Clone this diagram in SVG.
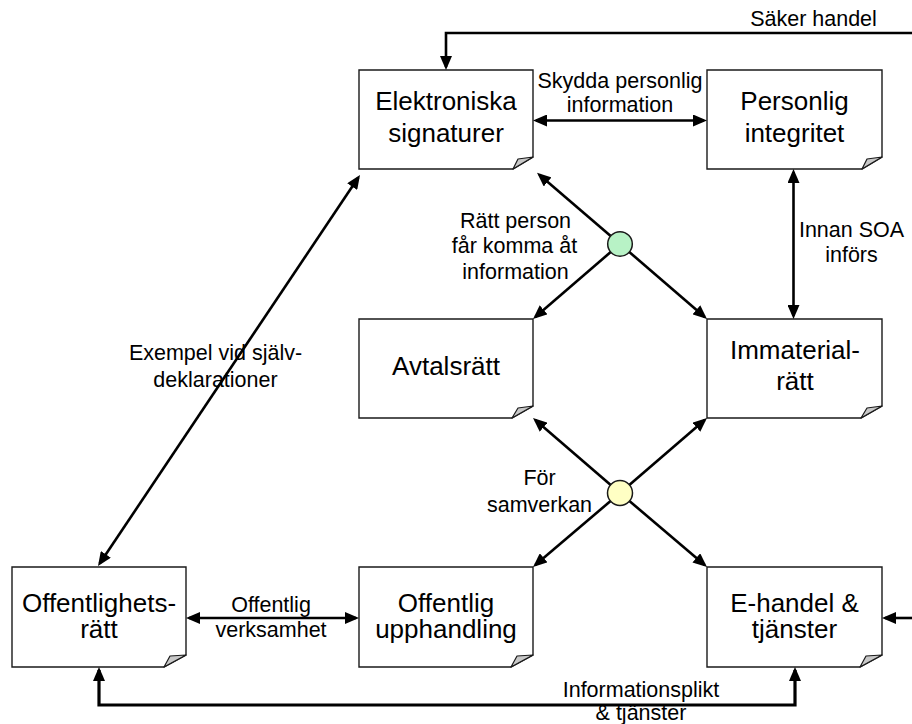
<svg xmlns="http://www.w3.org/2000/svg" width="912" height="724" viewBox="0 0 912 724">
  <style>
    .box { fill: #ffffff; stroke: #1a1a1a; stroke-width: 1.4; }
    .fold { fill: #c8c8c8; stroke: #1a1a1a; stroke-width: 1.2; stroke-linejoin: round; }
    .node-label { font-family: "Liberation Sans", Arial, sans-serif; font-size: 26px; fill: #000; text-anchor: middle; }
    .edge-label { font-family: "Liberation Sans", Arial, sans-serif; font-size: 21.5px; fill: #000; text-anchor: middle; }
    .conn { fill: none; stroke: #000; stroke-width: 2.6; }
    .conn-thick { fill: none; stroke: #000; stroke-width: 3.2; }
    .hub { stroke: #1a1a1a; stroke-width: 1.5; }
  </style>
  <defs>
    <marker id="arrow" markerUnits="userSpaceOnUse" markerWidth="14" markerHeight="12" refX="11" refY="6" orient="auto-start-reverse">
      <path d="M0,0 L14,6 L0,12 z" fill="#000"/>
    </marker>
  </defs>

  <rect width="912" height="724" fill="#ffffff"/>

  <!-- Nodes: note shapes with folded bottom-right corner -->
  <g id="elektroniska-signaturer">
    <path class="box" d="M359,70 H533 V157 L513,169 H359 Z"/>
    <path class="fold" d="M513,169 L518,159 L533,157 Z"/>
    <text class="node-label" x="446" y="110">Elektroniska</text>
    <text class="node-label" x="446" y="142">signaturer</text>
  </g>
  <g id="personlig-integritet">
    <path class="box" d="M707,70 H882 V157 L862,169 H707 Z"/>
    <path class="fold" d="M862,169 L867,159 L882,157 Z"/>
    <text class="node-label" x="794.5" y="110">Personlig</text>
    <text class="node-label" x="794.5" y="142">integritet</text>
  </g>
  <g id="avtalsratt">
    <path class="box" d="M359,319 H533 V406 L512,418 H359 Z"/>
    <path class="fold" d="M512,418 L518,408 L533,406 Z"/>
    <text class="node-label" x="446" y="375">Avtalsrätt</text>
  </g>
  <g id="immaterialratt">
    <path class="box" d="M707,319 H882 V406 L861,418 H707 Z"/>
    <path class="fold" d="M861,418 L867,408 L882,406 Z"/>
    <text class="node-label" x="795" y="359">Immaterial-</text>
    <text class="node-label" x="795" y="390">rätt</text>
  </g>
  <g id="offentlighetsratt">
    <path class="box" d="M12,567 H186 V655 L164,667 H12 Z"/>
    <path class="fold" d="M164,667 L170,656 L186,655 Z"/>
    <text class="node-label" x="99" y="612">Offentlighets-</text>
    <text class="node-label" x="99" y="638">rätt</text>
  </g>
  <g id="offentlig-upphandling">
    <path class="box" d="M359,567 H533 V655 L511,667 H359 Z"/>
    <path class="fold" d="M511,667 L517,656 L533,655 Z"/>
    <text class="node-label" x="446" y="612">Offentlig</text>
    <text class="node-label" x="446" y="638">upphandling</text>
  </g>
  <g id="e-handel">
    <path class="box" d="M707,567 H882 V655 L860,667 H707 Z"/>
    <path class="fold" d="M860,667 L866,656 L882,655 Z"/>
    <text class="node-label" x="794.5" y="612">E-handel &amp;</text>
    <text class="node-label" x="794.5" y="638">tjänster</text>
  </g>

  <!-- Connector labels -->
  <g id="labels">
    <text class="edge-label" x="813.5" y="26">Säker handel</text>
    <text class="edge-label" x="620" y="88">Skydda personlig</text>
    <text class="edge-label" x="620" y="112">information</text>
    <text class="edge-label" x="515.5" y="228">Rätt person</text>
    <text class="edge-label" x="514.5" y="253">får komma åt</text>
    <text class="edge-label" x="515.5" y="279">information</text>
    <text class="edge-label" x="851.5" y="237">Innan SOA</text>
    <text class="edge-label" x="851.5" y="262">införs</text>
    <text class="edge-label" x="215.5" y="360">Exempel vid själv-</text>
    <text class="edge-label" x="215.5" y="387">deklarationer</text>
    <text class="edge-label" x="539.5" y="485">För</text>
    <text class="edge-label" x="539.5" y="512">samverkan</text>
    <text class="edge-label" x="271" y="612">Offentlig</text>
    <text class="edge-label" x="271" y="637">verksamhet</text>
    <text class="edge-label" x="641" y="697">Informationsplikt</text>
    <text class="edge-label" x="641" y="720">&amp; tjänster</text>
  </g>

  <!-- Connectors -->
  <g id="connectors">
    <path class="conn" d="M912,33 H446 V67" marker-end="url(#arrow)"/>
    <path class="conn" d="M536,120.5 H704" marker-start="url(#arrow)" marker-end="url(#arrow)"/>
    <path class="conn" d="M793.5,172 V316" marker-start="url(#arrow)" marker-end="url(#arrow)"/>
    <path class="conn" d="M99.7,563.5 L358.3,177.5" marker-start="url(#arrow)" marker-end="url(#arrow)"/>
    <path class="conn" d="M189,618 H356" marker-start="url(#arrow)" marker-end="url(#arrow)"/>
    <path class="conn" d="M912,618 H885" marker-end="url(#arrow)"/>
    <path class="conn-thick" d="M99,670 V705 H795 V670" marker-start="url(#arrow)" marker-end="url(#arrow)"/>

    <!-- access hub -->
    <path class="conn" d="M620,244 L539.3,174.8" marker-end="url(#arrow)"/>
    <path class="conn" d="M620,244 L535.3,317" marker-end="url(#arrow)"/>
    <path class="conn" d="M620,244 L704.7,317" marker-end="url(#arrow)"/>
    <circle id="hub-access" class="hub" cx="620" cy="244" r="12.3" fill="#b8f2c6"/>

    <!-- cooperation hub -->
    <path class="conn" d="M620,493 L535.3,420" marker-end="url(#arrow)"/>
    <path class="conn" d="M620,493 L704.7,420" marker-end="url(#arrow)"/>
    <path class="conn" d="M620,493 L535.3,565" marker-end="url(#arrow)"/>
    <path class="conn" d="M620,493 L704.7,565" marker-end="url(#arrow)"/>
    <circle id="hub-cooperation" class="hub" cx="620" cy="493" r="12.5" fill="#ffffc4"/>
  </g>
</svg>
